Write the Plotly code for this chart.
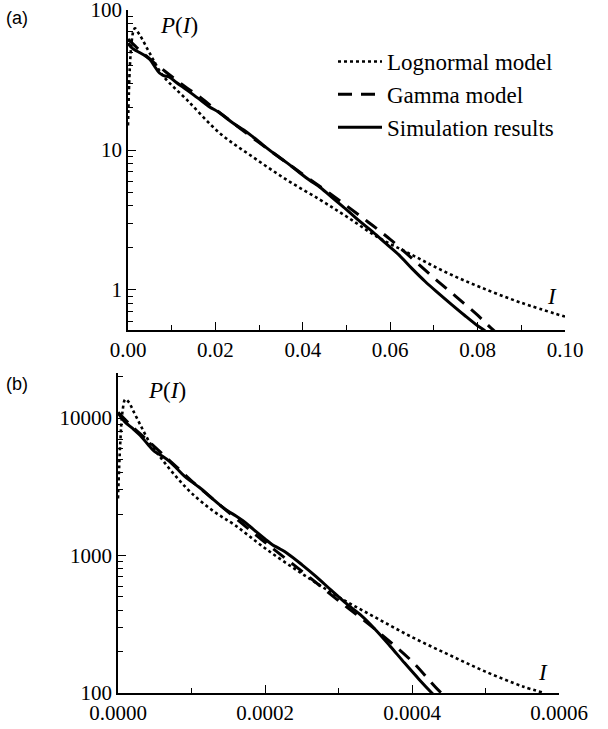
import plotly.graph_objects as go

# ---------------- Panel (a) data ----------------
a_logn_I = [0, 0.0004, 0.0008, 0.0012, 0.0016, 0.0022, 0.003, 0.005, 0.008, 0.0135,
            0.021, 0.0286, 0.0364, 0.044, 0.05, 0.057, 0.065, 0.0725, 0.0805, 0.09, 0.1]
a_logn_P = [15, 38, 58, 70, 74, 70, 64, 49, 34, 22.8,
            13.2, 8.9, 6.1, 4.4, 3.35, 2.4, 1.78, 1.35, 1.05, 0.81, 0.645]

a_gamma_I = [0, 0.002, 0.004, 0.006, 0.008, 0.01, 0.013, 0.016, 0.02, 0.025, 0.03,
             0.035, 0.04, 0.045, 0.05, 0.055, 0.06, 0.065, 0.07, 0.075, 0.08, 0.0835, 0.086]
a_gamma_P = [62, 54, 47.5, 42, 37.5, 33.5, 28.5, 24.5, 19.5, 14.8, 11.3,
             8.7, 6.7, 5.2, 4.0, 3.05, 2.3, 1.68, 1.22, 0.9, 0.66, 0.52, 0.45]

a_sim_I = [0, 0.0008, 0.0015, 0.0025, 0.004, 0.005, 0.006, 0.0072, 0.0082, 0.0095, 0.011,
           0.0135, 0.016, 0.0185, 0.021, 0.024, 0.0265, 0.0286, 0.031, 0.0335, 0.0364,
           0.039, 0.0415, 0.044, 0.047, 0.05, 0.053, 0.056, 0.059, 0.062, 0.065, 0.068,
           0.071, 0.074, 0.077, 0.08, 0.0815, 0.083]
a_sim_P = [58, 54, 52, 50, 47, 44.5, 40, 35.5, 34, 33.2, 30.5,
           26.8, 23.5, 20.5, 18.4, 15.6, 13.9, 12.4, 10.8, 9.4, 8.1,
           7.0, 6.1, 5.4, 4.5, 3.75, 3.1, 2.6, 2.15, 1.78, 1.42, 1.15,
           0.95, 0.79, 0.66, 0.555, 0.515, 0.47]

# ---------------- Panel (b) data ----------------
b_logn_I = [0, 0.000003, 0.000006, 0.00001, 0.000015, 0.00002, 0.00003, 0.0000435, 0.00006,
            0.00008, 0.0001, 0.00013, 0.00016, 0.0002, 0.00025, 0.0003, 0.00035, 0.0004,
            0.00045, 0.0005, 0.00055, 0.00058]
b_logn_P = [2600, 6500, 11000, 13700, 13000, 11500, 9000, 6600, 5000,
            3700, 2850, 2100, 1650, 1130, 740, 500, 355, 255,
            190, 143, 112, 100]

b_gamma_I = [0, 0.00002, 0.00004, 0.00006, 0.00008, 0.0001, 0.00013, 0.00016, 0.0002,
             0.00025, 0.0003, 0.00035, 0.0004, 0.00044, 0.00046]
b_gamma_P = [11000, 8600, 6900, 5500, 4400, 3500, 2550, 1870, 1250,
             770, 470, 290, 170, 100, 85]

b_sim_I = [0, 0.000005, 0.00001, 0.00002, 0.00003, 0.00004, 0.00005, 0.00006, 0.00007,
           0.00008, 0.00009, 0.0001, 0.00011, 0.00012, 0.00013, 0.00014, 0.00015, 0.00016,
           0.00017, 0.00018, 0.00019, 0.0002, 0.00021, 0.00022, 0.00023, 0.00025, 0.00027,
           0.00029, 0.00031, 0.00033, 0.00035, 0.00037, 0.00039, 0.00041, 0.000427, 0.00044]
b_sim_P = [10900, 10000, 9300, 8400, 7500, 6500, 5700, 5300, 4850,
           4300, 3800, 3450, 3150, 2850, 2550, 2300, 2100, 1950,
           1790, 1620, 1460, 1320, 1200, 1120, 1040, 860, 700,
           560, 450, 370, 290, 220, 165, 125, 100, 85]

legend_names = ["Lognormal model", "Gamma model", "Simulation results"]
a_xticks = [0.0, 0.02, 0.04, 0.06, 0.08, 0.10]
a_yticks = [1, 10, 100]
a_ytext = ["1", "10", "100"]
b_xticks = [0.0, 0.0002, 0.0004, 0.0006]
b_yticks = [100, 1000, 10000]
b_ytext = ["100", "1000", "10000"]

SERIF = "Liberation Serif"
W, H = 608, 729

fig = go.Figure()

dot_style = dict(color="black", width=2.6, dash="dot")
dash_style = dict(color="black", width=3, dash="14px,9px")
solid_style = dict(color="black", width=3)

for (xa, ya, show, data) in [
    ("x", "y", True, [(a_logn_I, a_logn_P), (a_gamma_I, a_gamma_P), (a_sim_I, a_sim_P)]),
    ("x2", "y2", False, [(b_logn_I, b_logn_P), (b_gamma_I, b_gamma_P), (b_sim_I, b_sim_P)]),
]:
    for (xs, ys), name, st in zip(data, legend_names, [dot_style, dash_style, solid_style]):
        fig.add_trace(go.Scatter(x=xs, y=ys, mode="lines", name=name, line=st,
                                 xaxis=xa, yaxis=ya, showlegend=show,
                                 line_shape="spline"))

def px_x(p):
    return p / W

def px_y(p):
    return 1 - p / H

axis_common = dict(showline=True, linecolor="black", linewidth=1.5, showgrid=False,
                   zeroline=False, ticks="inside", tickcolor="black", tickwidth=1.3,
                   ticklen=8, tickfont=dict(family=SERIF, size=21, color="black"),
                   mirror=False, automargin=False, ticklabeloverflow="allow")
minor_common = dict(ticks="inside", ticklen=5, tickwidth=1.3, tickcolor="black", showgrid=False)

fig.update_layout(
    template="none",
    width=W, height=H,
    margin=dict(l=0, r=0, t=0, b=0, autoexpand=False),
    paper_bgcolor="white", plot_bgcolor="white",
    xaxis=dict(axis_common, domain=[px_x(128), px_x(565)], range=[0, 0.1],
               tickvals=a_xticks, tickformat=".2f", anchor="y",
               minor=dict(minor_common, dtick=0.01)),
    yaxis=dict(axis_common, domain=[px_y(330), px_y(10)], type="log", range=[-0.286, 2.0005],
               tickvals=a_yticks, ticktext=a_ytext, anchor="x",
               minor=dict(minor_common, dtick="D1")),
    xaxis2=dict(axis_common, domain=[px_x(118), px_x(559)], range=[0, 0.0006],
                tickvals=b_xticks, tickformat=".4f", anchor="y2",
                minor=dict(minor_common, dtick=0.0001)),
    yaxis2=dict(axis_common, domain=[px_y(693), px_y(373)], type="log", range=[2, 4.328],
                tickvals=b_yticks, ticktext=b_ytext, anchor="x2",
                minor=dict(minor_common, dtick="D1")),
    legend=dict(x=px_x(333), y=px_y(40), xanchor="left", yanchor="top",
                font=dict(family=SERIF, size=23, color="black"),
                bgcolor="rgba(0,0,0,0)", itemwidth=44, tracegroupgap=0),
    showlegend=True,
)

ann_font_it = dict(family=SERIF, size=23, color="black")
annotations = [
    dict(text="(a)", x=px_x(4), y=px_y(18), xanchor="left", yanchor="middle",
         font=dict(family="Liberation Sans", size=18, color="black")),
    dict(text="(b)", x=px_x(4), y=px_y(384), xanchor="left", yanchor="middle",
         font=dict(family="Liberation Sans", size=18, color="black")),
    dict(text="<i>P</i>(<i>I</i>)", x=px_x(158), y=px_y(25), xanchor="left", yanchor="middle",
         font=ann_font_it),
    dict(text="<i>P</i>(<i>I</i>)", x=px_x(146), y=px_y(390), xanchor="left", yanchor="middle",
         font=ann_font_it),
    dict(text="<i>I</i>", x=px_x(552), y=px_y(296), xanchor="center", yanchor="middle",
         font=ann_font_it),
    dict(text="<i>I</i>", x=px_x(543), y=px_y(672), xanchor="center", yanchor="middle",
         font=ann_font_it),
]
for a in annotations:
    a.update(xref="paper", yref="paper", showarrow=False)
fig.update_layout(annotations=annotations)

fig.write_html("out.html", config={"displayModeBar": False},
               post_script="document.body.style.margin='0px';")
